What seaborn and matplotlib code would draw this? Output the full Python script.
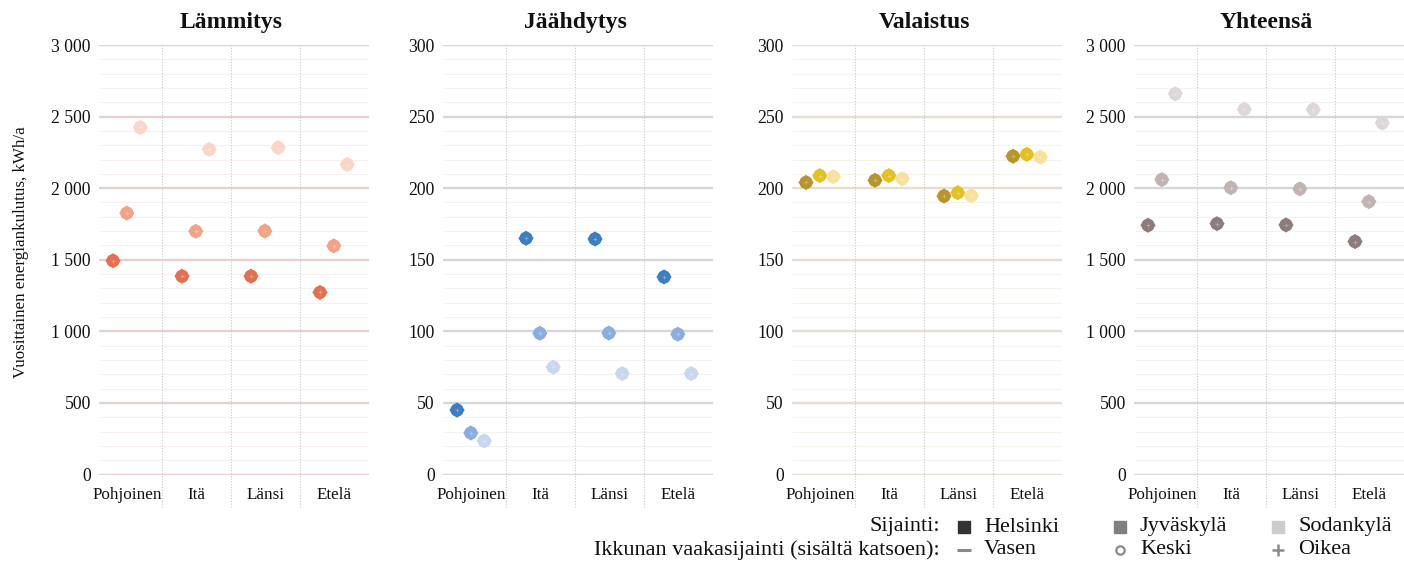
import matplotlib
matplotlib.use("Agg")
import matplotlib.pyplot as plt
from matplotlib.lines import Line2D
from matplotlib.ticker import FuncFormatter, MultipleLocator
import numpy as np
import pandas as pd
import seaborn as sns

# ---------------- data ----------------
titles = ["Lämmitys", "Jäähdytys", "Valaistus", "Yhteensä"]
suunnat = ["Pohjoinen", "Itä", "Länsi", "Etelä"]
sijainnit = ["Helsinki", "Jyväskylä", "Sodankylä"]

lammitys_helsinki = [1493, 1385, 1385, 1272]
lammitys_jyvaskyla = [1826, 1699, 1701, 1597]
lammitys_sodankyla = [2424, 2271, 2283, 2165]

jaahdytys_helsinki = [45, 165, 164.5, 138]
jaahdytys_jyvaskyla = [29, 98.6, 98.8, 98]
jaahdytys_sodankyla = [23.5, 75, 70.5, 70.5]

valaistus_helsinki = [204, 205.5, 194.5, 222.3]
valaistus_jyvaskyla = [208.8, 208.8, 196.8, 223.6]
valaistus_sodankyla = [208, 206.6, 194.7, 221.7]

yhteensa_helsinki = [1741, 1752, 1743, 1627]
yhteensa_jyvaskyla = [2060, 2003, 1995, 1906]
yhteensa_sodankyla = [2659, 2551, 2549, 2455]

ylims = [3000, 300, 300, 3000]
major_steps = [500, 50, 50, 500]
minor_steps = [100, 10, 10, 100]

ikkuna_labels = ["Vasen", "Keski", "Oikea"]

# ---------------- style ----------------
sns.set_theme(style="white")
plt.rcParams["font.family"] = ["Liberation Serif", "DejaVu Serif"]

palettes = [
    ["#e3704f", "#f4a486", "#fbd6c6"],
    ["#3c7ec2", "#8aaee0", "#c8d7ef"],
    ["#b8952c", "#e4c020", "#f6e29c"],
    ["#8d7c7c", "#c2b3b3", "#dfd7d7"],
]
major_cols = ["#e6d0d0", "#d7d7d7", "#e8ddd0", "#d7d7d7"]
minor_cols = ["#f7f0f0", "#f2f2f2", "#f6f2ec", "#f2f2f2"]

series = [
    [lammitys_helsinki, lammitys_jyvaskyla, lammitys_sodankyla],
    [jaahdytys_helsinki, jaahdytys_jyvaskyla, jaahdytys_sodankyla],
    [valaistus_helsinki, valaistus_jyvaskyla, valaistus_sodankyla],
    [yhteensa_helsinki, yhteensa_jyvaskyla, yhteensa_sodankyla],
]
offsets = [-0.21, -0.01, 0.185]

W, H = 1404, 561
fig = plt.figure(figsize=(W / 100, H / 100), dpi=100)
fig.patch.set_facecolor("white")

lefts = [93, 437, 786, 1128]
top_px, bot_px, width_px = 45, 474.5, 276


def fmt(v, pos):
    return f"{int(round(v)):,}".replace(",", " ")


for k in range(4):
    ax = fig.add_axes([lefts[k] / W, 1 - bot_px / H, width_px / W, (bot_px - top_px) / H])
    ax.set_facecolor("white")
    rows = []
    for j, loc in enumerate(sijainnit):
        for i, s in enumerate(suunnat):
            rows.append({"x": i + offsets[j], "value": series[k][j][i], "Sijainti": loc})
    df = pd.DataFrame(rows)
    pal = dict(zip(sijainnit, palettes[k]))
    sns.scatterplot(data=df, x="x", y="value", hue="Sijainti", palette=pal, marker="D",
                    s=62, linewidth=0, legend=False, ax=ax, zorder=3, clip_on=False)
    sns.scatterplot(data=df, x="x", y="value", hue="Sijainti", palette=pal, marker="o",
                    s=92, linewidth=0, legend=False, ax=ax, zorder=3, clip_on=False)
    ax.scatter(df["x"], df["value"], marker="+", s=9, c="white", linewidths=0.5,
               alpha=0.4, zorder=4)

    ax.set_xlim(-0.5, 3.5)
    ax.set_ylim(0, ylims[k])
    ax.yaxis.set_major_locator(MultipleLocator(major_steps[k]))
    ax.yaxis.set_major_formatter(FuncFormatter(fmt))
    ax.set_xticks(range(4))
    ax.set_xticklabels(suunnat)
    ax.tick_params(axis="x", length=0, pad=9, labelsize=12.3, colors="#111111")
    ax.tick_params(axis="y", length=0, pad=1.5, labelsize=12.7, colors="#111111")
    for sp in ax.spines.values():
        sp.set_visible(False)
    ax.set_xlabel("")
    ax.set_ylabel("")

    # gridlines (start a bit to the right of the axis edge, as in the reference)
    tr = ax.get_yaxis_transform()
    minor_vals = np.arange(0, ylims[k] + 1e-9, minor_steps[k])
    major_vals = np.arange(0, ylims[k] + 1e-9, major_steps[k])
    for v in minor_vals:
        ax.plot([0.025, 1], [v, v], transform=tr, color=minor_cols[k], lw=0.8, zorder=0)
    for v in major_vals:
        ax.plot([0.025, 1], [v, v], transform=tr, color=major_cols[k], lw=1.7, zorder=1)
    for b in [0.5, 1.5, 2.5]:
        ax.axvline(b, ymin=-0.075, ymax=1, color="#c9c9c9", lw=0.8, ls=(0, (1, 1.5)),
                   clip_on=False, zorder=1)

    ax.set_title(titles[k], fontsize=17, fontweight="bold", pad=12, color="#111111")

fig.text(21 / W, 1 - 252.5 / H, "Vuosittainen energiankulutus, kWh/a", rotation=90,
         ha="center", va="center", fontsize=12.2, color="#111111")

# ---------------- legend ----------------
fs = 16
y1 = 1 - 527 / H
y2 = 1 - 550 / H
fig.text(940 / W, y1, "Sijainti:", ha="right", va="center", fontsize=fs, color="#111111")
fig.text(940 / W, y2, "Ikkunan vaakasijainti (sisältä katsoen):", ha="right", va="center",
         fontsize=fs, color="#111111")
sq_cols = ["#333333", "#808080", "#cccccc"]
mx = [964, 1120, 1278]
for j in range(3):
    fig.add_artist(Line2D([mx[j] / W], [y1], marker="s", markersize=8, color=sq_cols[j],
                          linestyle="none", transform=fig.transFigure))
    fig.text((mx[j] + 20) / W, y1, sijainnit[j], ha="left", va="center", fontsize=fs,
             color="#111111")
ik_markers = ["_", "o", "+"]
ik_kw = [dict(markersize=10, markeredgewidth=2.2, color="#8a8a8a"),
         dict(markersize=6, markeredgewidth=1.6, markerfacecolor="none", color="#8a8a8a"),
         dict(markersize=9, markeredgewidth=1.8, color="#8a8a8a")]
for j in range(3):
    fig.add_artist(Line2D([mx[j] / W], [y2], marker=ik_markers[j], linestyle="none",
                          transform=fig.transFigure, **ik_kw[j]))
    fig.text((mx[j] + 20) / W, y2, ikkuna_labels[j], ha="left", va="center", fontsize=fs,
             color="#111111")

fig.savefig("out.png", dpi=100, facecolor="white")
